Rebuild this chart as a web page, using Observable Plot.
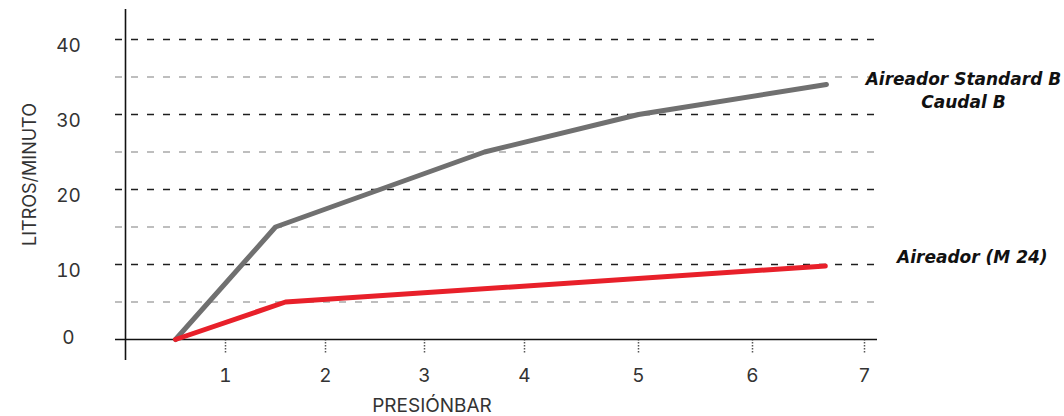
<!DOCTYPE html>
<html>
<head>
<meta charset="utf-8">
<script src="https://cdn.jsdelivr.net/npm/d3@7"></script>
<script src="https://cdn.jsdelivr.net/npm/@observablehq/plot@0.6"></script>
<style>
  html, body { margin: 0; padding: 0; background: #fff; }
  #chart svg { display: block; }
</style>
</head>
<body>
<div id="chart"></div>
<script>
// ---- data ----
const pressureStd = [0.5, 1.5, 3.6, 5, 6.66];
const flowStd = [0, 15, 25, 30, 34];
const pressureM24 = [0.5, 1.6, 6.65];
const flowM24 = [0, 5, 9.8];
const seriesNames = ["Aireador Standard B\nCaudal B", "Aireador (M 24)"];
const seriesColors = ["#707070", "#e8202a"];
const xTicks = [1, 2, 3, 4, 5, 6, 7];
const yTicks = [0, 10, 20, 30, 40];
const yMinor = [5, 15, 25, 35];
const xTitle = "PRESIÓNBAR";
const yTitle = "LITROS/MINUTO";

const std = pressureStd.map((p, i) => ({p, f: flowStd[i]}));
const m24 = pressureM24.map((p, i) => ({p, f: flowM24[i]}));
const ends = [
  {p: pressureStd.at(-1), f: flowStd.at(-1), name: seriesNames[0]},
  {p: pressureM24.at(-1), f: flowM24.at(-1), name: seriesNames[1]}
];

const font = "Inter, 'Open Sans', sans-serif";
const labelFont = "'DejaVu Sans', Inter, sans-serif";

const chart = Plot.plot({
  width: 1064,
  height: 416,
  marginLeft: 124,
  marginRight: 187,
  marginTop: 9,
  marginBottom: 77,
  style: {fontFamily: font, background: "#fff", overflow: "visible"},
  x: {type: "linear", domain: xTicks, range: [225, 325, 424, 524, 638, 752, 864], label: null},
  y: {domain: [0, 44], label: null},
  marks: [
    Plot.ruleY(yMinor, {stroke: "#a9a9a9", strokeWidth: 1.5, strokeDasharray: "7,9", insetLeft: -9}),
    Plot.ruleY(yTicks.filter(d => d > 0), {stroke: "#1e1e1e", strokeWidth: 1.5, strokeDasharray: "7,9", insetLeft: -9}),
    Plot.axisX(xTicks, {tickSize: 14, tickFormat: () => "", stroke: "#555", strokeWidth: 1.5, strokeDasharray: "1.5,1.5", label: null}),
    Plot.axisX(xTicks, {tickSize: 0, tickPadding: 29, fontSize: 19, fill: "#333", label: null}),
    Plot.axisY(yTicks.filter(d => d > 0), {tickSize: 0, tickPadding: 56, textAnchor: "middle", fontSize: 19, fill: "#333", dy: 6, label: null}),
    Plot.axisY(yTicks.filter(d => d === 0), {tickSize: 0, tickPadding: 56, textAnchor: "middle", fontSize: 19, fill: "#333", dy: -2, label: null}),
    Plot.ruleX([xTicks[0]], {x: () => 0, frameAnchor: "left", stroke: "#111", strokeWidth: 1.6, insetBottom: -21, insetTop: 0}),
    Plot.ruleY([0], {stroke: "#111", strokeWidth: 1.6, insetLeft: -9}),
    Plot.line(std, {x: "p", y: "f", stroke: seriesColors[0], strokeWidth: 5}),
    Plot.line(m24, {x: "p", y: "f", stroke: seriesColors[1], strokeWidth: 5}),
    Plot.text(ends, {x: "p", y: "f", text: "name", dx: 137, dy: -16, lineAnchor: "top", textAnchor: "middle",
      fontFamily: labelFont, fontSize: 17, fontWeight: "bold", fontStyle: "italic", fill: "#111", lineHeight: 1.35,
      filter: (d, i) => i === 0}),
    Plot.text(ends, {x: "p", y: "f", text: "name", dx: 147, dy: -15, lineAnchor: "top", textAnchor: "middle",
      fontFamily: labelFont, fontSize: 17, fontWeight: "bold", fontStyle: "italic", fill: "#111",
      filter: (d, i) => i === 1}),
    Plot.text([xTitle], {frameAnchor: "bottom", text: d => d, dx: -69, dy: 66, lineAnchor: "middle", fontSize: 19, fill: "#333"}),
    Plot.text([yTitle], {frameAnchor: "left", text: d => d, dx: -94, rotate: -90, lineAnchor: "middle", textAnchor: "middle", fontSize: 18, fill: "#333"})
  ]
});
document.getElementById("chart").append(chart);
</script>
</body>
</html>
